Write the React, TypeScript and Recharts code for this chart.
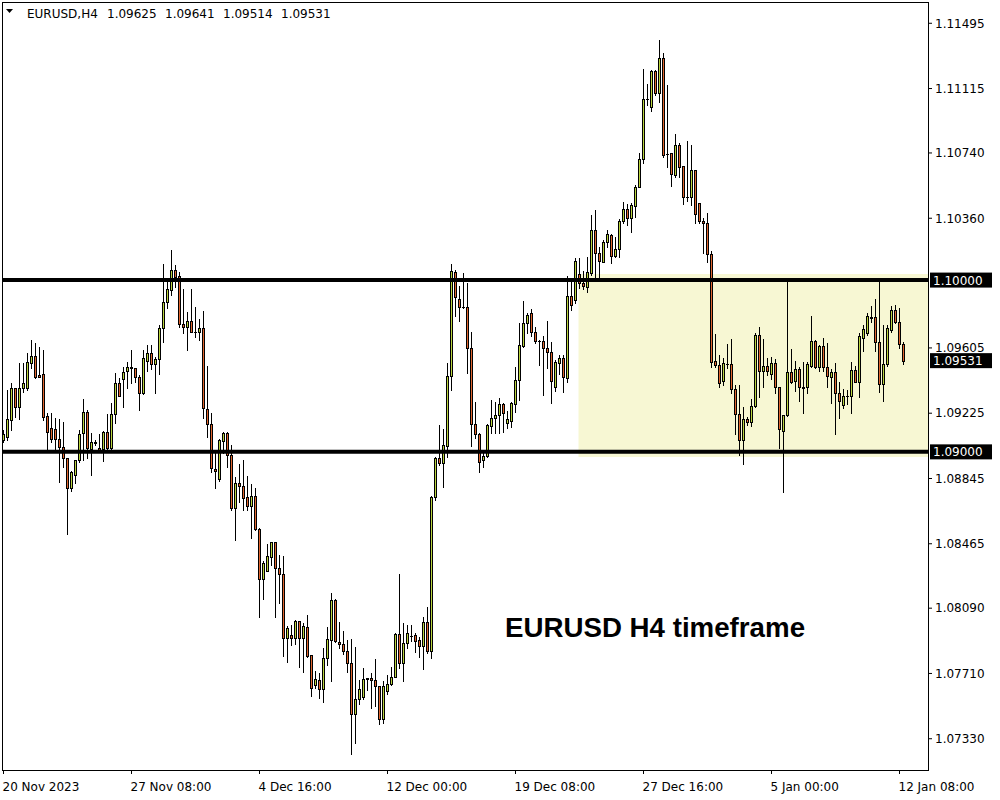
import React from "react";
import { ComposedChart, Bar, XAxis, YAxis, ReferenceLine, ReferenceArea } from "recharts";

const FONT = "'DejaVu Sans', Verdana, sans-serif";
const BULL = "#BAD43E";
const BEAR = "#E0652E";

// EURUSD H4 candles (index 0 = 20 Nov 2023 00:00)
const opens = [
  1.09069, 1.09084, 1.09185, 1.0937, 1.09262, 1.09373, 1.09373, 1.09519, 1.09558, 1.09447,
  1.09451, 1.09208, 1.09137, 1.09133, 1.09074, 1.09026, 1.08962, 1.08787, 1.08865, 1.08952,
  1.09108, 1.0923, 1.09015, 1.09055, 1.0902, 1.09015, 1.09113, 1.0902, 1.09218, 1.09402,
  1.09425, 1.0947, 1.09492, 1.09486, 1.09434, 1.0934, 1.0953, 1.09573, 1.09509, 1.0954,
  1.09719, 1.0987, 1.09942, 1.10058, 1.10023, 1.09742, 1.09725, 1.09761, 1.09696, 1.09696,
  1.09719, 1.09247, 1.0916, 1.08898, 1.0884, 1.09065, 1.09108, 1.08981, 1.08675, 1.08817,
  1.08804, 1.08735, 1.08686, 1.08744, 1.08551, 1.08258, 1.08308, 1.08389, 1.08473, 1.08322,
  1.08289, 1.07914, 1.07932, 1.07918, 1.08015, 1.07914, 1.07978, 1.07817, 1.07643, 1.07672,
  1.07617, 1.07798, 1.07904, 1.08137, 1.07894, 1.07879, 1.0784, 1.07769, 1.07472, 1.07559,
  1.07574, 1.07681, 1.07683, 1.07672, 1.07638, 1.07443, 1.07608, 1.07647, 1.07687, 1.07938,
  1.07769, 1.07885, 1.0793, 1.07934, 1.07904, 1.07871, 1.08007, 1.07842, 1.08739, 1.08962,
  1.08936, 1.09036, 1.09441, 1.10047, 1.09889, 1.09845, 1.09841, 1.09602, 1.09162, 1.09104,
  1.0895, 1.08976, 1.09152, 1.09195, 1.09214, 1.09278, 1.09169, 1.09181, 1.09276, 1.09418,
  1.09618, 1.09748, 1.09806, 1.09696, 1.09645, 1.09645, 1.09602, 1.09579, 1.09375, 1.09519,
  1.09544, 1.0943, 1.09907, 1.09884, 1.10033, 1.09981, 1.09961, 1.10039, 1.10291, 1.10155,
  1.10107, 1.10219, 1.10262, 1.10141, 1.10179, 1.10345, 1.10412, 1.10359, 1.10432, 1.10543,
  1.10703, 1.11054, 1.11009, 1.11217, 1.1109, 1.11291, 1.10733, 1.10738, 1.10611, 1.10786,
  1.10664, 1.10485, 1.10485, 1.1064, 1.10446, 1.10345, 1.1033, 1.1015, 1.09528, 1.09505,
  1.09415, 1.09511, 1.09509, 1.09364, 1.09218, 1.09069, 1.09189, 1.09175, 1.09267, 1.0968,
  1.0947, 1.09501, 1.09451, 1.09515, 1.09375, 1.09123, 1.09214, 1.09463, 1.09414, 1.09482,
  1.09375, 1.09375, 1.09499, 1.09645, 1.09495, 1.09616, 1.09495, 1.09437, 1.09463, 1.0934,
  1.09272, 1.09325, 1.09325, 1.09476, 1.09405, 1.09664, 1.0969, 1.09783, 1.09783, 1.09637,
  1.09393, 1.09509, 1.09709, 1.09825, 1.09754, 1.09625,
];
const highs = [
  1.09127, 1.0936, 1.09399, 1.09371, 1.09515, 1.09519, 1.09573, 1.09651, 1.09632, 1.09612,
  1.09593, 1.09224, 1.09228, 1.09195, 1.09189, 1.09175, 1.08962, 1.08888, 1.08952, 1.09127,
  1.09306, 1.09243, 1.09108, 1.09069, 1.09102, 1.09121, 1.09218, 1.09282, 1.09457, 1.09431,
  1.09495, 1.09524, 1.09593, 1.09486, 1.09447, 1.09593, 1.09622, 1.09622, 1.09554, 1.09738,
  1.10091, 1.0999, 1.10175, 1.10087, 1.10045, 1.09946, 1.09815, 1.09946, 1.09841, 1.09773,
  1.0982, 1.09499, 1.09224, 1.08991, 1.09073, 1.09117, 1.09117, 1.0904, 1.08855, 1.08929,
  1.08952, 1.08859, 1.08811, 1.08787, 1.08558, 1.08364, 1.08463, 1.08473, 1.08473, 1.08399,
  1.08395, 1.07986, 1.07992, 1.08021, 1.08015, 1.08005, 1.0805, 1.07817, 1.07726, 1.07711,
  1.07856, 1.07982, 1.0818, 1.08141, 1.08011, 1.07959, 1.07904, 1.07908, 1.07862, 1.07672,
  1.0774, 1.07683, 1.07711, 1.07794, 1.07638, 1.07666, 1.07701, 1.07749, 1.07943, 1.08289,
  1.08002, 1.07992, 1.07992, 1.07947, 1.07924, 1.0804, 1.08095, 1.08743, 1.08971, 1.09156,
  1.09131, 1.09515, 1.10093, 1.10058, 1.09965, 1.10042, 1.09984, 1.09699, 1.09288, 1.09108,
  1.0901, 1.09162, 1.09301, 1.09288, 1.09315, 1.09286, 1.09237, 1.09288, 1.09492, 1.09748,
  1.09878, 1.09806, 1.09831, 1.09725, 1.09651, 1.09674, 1.09761, 1.09641, 1.09534, 1.09563,
  1.09563, 1.10023, 1.10012, 1.10126, 1.10126, 1.10054, 1.10132, 1.10378, 1.10407, 1.10194,
  1.10233, 1.10291, 1.10266, 1.10252, 1.10355, 1.10452, 1.10441, 1.10446, 1.10553, 1.10738,
  1.11226, 1.11141, 1.11222, 1.11222, 1.11397, 1.1132, 1.11135, 1.10738, 1.1085, 1.10796,
  1.10664, 1.10809, 1.10786, 1.1064, 1.10446, 1.10359, 1.10392, 1.10171, 1.09686, 1.09563,
  1.09544, 1.09627, 1.09655, 1.09389, 1.09389, 1.09262, 1.09204, 1.09306, 1.09693, 1.09725,
  1.09655, 1.09544, 1.09554, 1.09538, 1.09379, 1.09214, 1.09996, 1.09597, 1.09528, 1.09495,
  1.09521, 1.09524, 1.0979, 1.09651, 1.09622, 1.09661, 1.09632, 1.09482, 1.09515, 1.09405,
  1.09366, 1.0936, 1.09524, 1.09501, 1.0969, 1.09738, 1.09806, 1.09849, 1.09889, 1.09996,
  1.09738, 1.09738, 1.09849, 1.09854, 1.09835, 1.09641,
];
const lows = [
  1.09057, 1.09069, 1.09127, 1.09204, 1.09189, 1.0935, 1.0936, 1.09486, 1.09428, 1.09435,
  1.09185, 1.0901, 1.09059, 1.0901, 1.08826, 1.08913, 1.08521, 1.08774, 1.08817, 1.08942,
  1.08952, 1.08962, 1.08865, 1.0904, 1.09006, 1.08948, 1.09015, 1.09015, 1.09169, 1.09327,
  1.09262, 1.09373, 1.09399, 1.09408, 1.09243, 1.09336, 1.09472, 1.0948, 1.09344, 1.09451,
  1.09641, 1.09835, 1.09913, 1.09961, 1.09725, 1.0969, 1.09593, 1.09696, 1.0967, 1.09651,
  1.09198, 1.09088, 1.08881, 1.08787, 1.08832, 1.08991, 1.0891, 1.08661, 1.08487, 1.08709,
  1.08661, 1.08661, 1.08496, 1.08545, 1.0804, 1.08143, 1.08308, 1.08341, 1.0804, 1.08122,
  1.07811, 1.07778, 1.07875, 1.07879, 1.07749, 1.0772, 1.07807, 1.07578, 1.07623, 1.07569,
  1.07545, 1.07759, 1.07668, 1.07894, 1.07856, 1.07821, 1.0772, 1.07239, 1.07303, 1.0753,
  1.07559, 1.07613, 1.0751, 1.0752, 1.07414, 1.0742, 1.07588, 1.07643, 1.07687, 1.0774,
  1.07669, 1.07856, 1.079, 1.07836, 1.07804, 1.07734, 1.07827, 1.07798, 1.08719, 1.08923,
  1.08797, 1.08971, 1.0936, 1.09792, 1.09761, 1.09835, 1.09457, 1.09035, 1.09079, 1.08884,
  1.08913, 1.08968, 1.09111, 1.09108, 1.09108, 1.09117, 1.0914, 1.09146, 1.0923, 1.09301,
  1.09612, 1.0969, 1.09674, 1.09632, 1.09505, 1.09331, 1.09489, 1.09286, 1.09356, 1.09451,
  1.0935, 1.09406, 1.09825, 1.09866, 1.09952, 1.09948, 1.09932, 1.10029, 1.1001, 1.1001,
  1.10103, 1.10194, 1.10097, 1.10132, 1.10132, 1.10334, 1.1032, 1.10281, 1.10365, 1.1054,
  1.10683, 1.11019, 1.10986, 1.11077, 1.11038, 1.10718, 1.10656, 1.10549, 1.10601, 1.10601,
  1.10441, 1.10462, 1.10437, 1.1033, 1.10334, 1.10159, 1.10103, 1.09492, 1.09492, 1.09375,
  1.09389, 1.09486, 1.09344, 1.09102, 1.08981, 1.08929, 1.09156, 1.09152, 1.09262, 1.09321,
  1.09379, 1.09447, 1.09422, 1.0934, 1.09024, 1.08768, 1.0921, 1.09402, 1.09354, 1.09297,
  1.09224, 1.0934, 1.09495, 1.09486, 1.09472, 1.09472, 1.09379, 1.09286, 1.09102, 1.09195,
  1.09253, 1.09278, 1.09228, 1.09405, 1.09317, 1.09587, 1.0968, 1.09757, 1.09588, 1.0935,
  1.09299, 1.09501, 1.09699, 1.09748, 1.09606, 1.09514,
];
const closes = [
  1.09104, 1.09189, 1.0937, 1.09262, 1.09373, 1.09399, 1.09521, 1.09558, 1.09437, 1.09437,
  1.09204, 1.09113, 1.09073, 1.09073, 1.09026, 1.08962, 1.08787, 1.08881, 1.08952, 1.09102,
  1.0923, 1.0902, 1.09055, 1.09053, 1.0901, 1.09113, 1.0902, 1.09218, 1.09402, 1.09327,
  1.09466, 1.09492, 1.0949, 1.09434, 1.09344, 1.09544, 1.09577, 1.09509, 1.0954, 1.09719,
  1.0987, 1.09946, 1.10058, 1.10016, 1.09742, 1.09725, 1.09761, 1.09696, 1.09695, 1.09719,
  1.09253, 1.0916, 1.08904, 1.08888, 1.09069, 1.09108, 1.08981, 1.08675, 1.08817, 1.08803,
  1.08729, 1.08686, 1.08744, 1.08549, 1.08258, 1.08351, 1.08393, 1.08473, 1.08322, 1.08287,
  1.07918, 1.07973, 1.07918, 1.08017, 1.07914, 1.07986, 1.07811, 1.07623, 1.07676, 1.07617,
  1.07798, 1.07908, 1.08137, 1.079, 1.07879, 1.0784, 1.07769, 1.07472, 1.07559, 1.07617,
  1.07677, 1.0768, 1.07672, 1.07637, 1.07443, 1.07637, 1.07647, 1.07691, 1.07938, 1.07769,
  1.07885, 1.07943, 1.07929, 1.079, 1.07871, 1.08007, 1.07842, 1.08739, 1.08962, 1.08936,
  1.0904, 1.09441, 1.10052, 1.09903, 1.09845, 1.09843, 1.09602, 1.0916, 1.09102, 1.08942,
  1.08976, 1.09156, 1.09198, 1.09214, 1.09278, 1.09224, 1.09191, 1.09282, 1.09418, 1.09622,
  1.09748, 1.09796, 1.09699, 1.09645, 1.09644, 1.09602, 1.09579, 1.09414, 1.09521, 1.09544,
  1.09437, 1.09907, 1.09854, 1.10111, 1.09984, 1.09967, 1.10045, 1.10291, 1.10155, 1.10112,
  1.10219, 1.10266, 1.10141, 1.1018, 1.10345, 1.10412, 1.10359, 1.10437, 1.10543, 1.10703,
  1.11052, 1.11053, 1.11217, 1.1109, 1.11291, 1.10728, 1.10732, 1.10615, 1.10786, 1.10656,
  1.10485, 1.10484, 1.1064, 1.10382, 1.10345, 1.1033, 1.1015, 1.09524, 1.09505, 1.09402,
  1.09515, 1.0951, 1.09364, 1.09218, 1.09069, 1.09189, 1.09175, 1.09267, 1.0968, 1.0947,
  1.09501, 1.0947, 1.09515, 1.09375, 1.09131, 1.09214, 1.09463, 1.09405, 1.09482, 1.09375,
  1.09374, 1.09509, 1.09645, 1.09495, 1.09616, 1.09495, 1.09441, 1.09463, 1.0934, 1.09297,
  1.09325, 1.09324, 1.09476, 1.09405, 1.09674, 1.09715, 1.0979, 1.09782, 1.09637, 1.09393,
  1.09511, 1.09719, 1.09825, 1.09754, 1.09626, 1.09531,
];

const timeTicks = [0, 32, 64, 96, 128, 160, 192, 224];
const timeLabels = ["20 Nov 2023", "27 Nov 08:00", "4 Dec 16:00", "12 Dec 00:00", "19 Dec 08:00", "27 Dec 16:00", "5 Jan 00:00", "12 Jan 08:00"];
const priceTicks = [1.0733, 1.0771, 1.0809, 1.08465, 1.08845, 1.09225, 1.09605, 1.1036, 1.1074, 1.11115, 1.11495];
const levels = [1.1, 1.09];
const lastPrice = 1.09531;
const zoneTop = 1.10035;
const zoneBottom = 1.0897;
const zoneStart = 143.75;
const headerValues = ["1.09625", "1.09641", "1.09514", "1.09531"];

const data = opens.map((o, i) => ({
  idx: i, o, h: highs[i], l: lows[i], c: closes[i], range: [lows[i], highs[i]],
}));

const Candle = (props: any) => {
  const { x, y, width, height, payload } = props;
  if (x == null || !payload) return null;
  const { o, h, l, c } = payload;
  const top = Math.min(y, y + height);
  const hgt = Math.abs(height);
  const k = h > l ? hgt / (h - l) : 0;
  const py = (v: number) => top + (h - v) * k;
  const cx = Math.round(x + width / 2 - 0.5) + 0.5;
  const bTop = Math.round(py(Math.max(o, c)));
  const bBot = Math.round(py(Math.min(o, c)));
  return (
    <g shapeRendering="crispEdges">
      <line x1={cx} x2={cx} y1={Math.round(top)} y2={Math.round(top + hgt) + 1} stroke="#000" />
      {bBot > bTop ? (
        <rect x={cx - 1} y={bTop + 0.5} width={2} height={bBot - bTop} fill={c >= o ? BULL : BEAR} stroke="#000" />
      ) : (
        <line x1={cx - 1.5} x2={cx + 1.5} y1={bTop + 0.5} y2={bTop + 0.5} stroke="#000" />
      )}
    </g>
  );
};

const TimeTick = ({ x, y, payload }: any) => {
  const k = timeTicks.indexOf(payload.value);
  return (
    <text x={x - 1} y={y + 15} fill="#000" fontSize={12} fontFamily={FONT} textAnchor="start">
      {timeLabels[k]}
    </text>
  );
};

const PriceTag = ({ viewBox, text }: any) => {
  if (!viewBox) return null;
  const x = viewBox.x + viewBox.width + 2;
  return (
    <g>
      <rect x={x} y={viewBox.y - 7.5} width={62} height={15} fill="#000" />
      <text x={x + 3} y={viewBox.y + 4.5} fill="#fff" fontSize={12} fontFamily={FONT}>{text}</text>
    </g>
  );
};

export default function App() {
  return (
    <div style={{ position: "relative", width: 1000, height: 800, background: "#fff" }}>
      <style>{"body{margin:0}"}</style>
      <ComposedChart width={1000} height={800} data={data} margin={{ top: 3, right: 0, left: 3, bottom: 0 }}>
        <XAxis
          dataKey="idx" type="number" domain={[-0.125, 231.125]} allowDataOverflow
          ticks={timeTicks} interval={0} tick={<TimeTick />} tickLine={{ stroke: "#000" }}
          tickSize={4} axisLine={false} height={30}
        />
        <YAxis
          orientation="right" type="number" domain={[1.07148, 1.11613]} allowDataOverflow
          ticks={priceTicks} interval={0} tickFormatter={(v: number) => v.toFixed(5)}
          tick={{ fill: "#000", fontSize: 12, fontFamily: FONT }} tickLine={{ stroke: "#000" }}
          tickSize={4} tickMargin={3} axisLine={false} width={72}
        />
        <ReferenceArea x1={zoneStart} x2={231.125} y1={zoneBottom} y2={zoneTop} fill="#F7F7D3" fillOpacity={1} stroke="none" />
        <Bar dataKey="range" barSize={3} shape={Candle} isAnimationActive={false} />
        {levels.map((v) => (
          <ReferenceLine key={v} y={v} stroke="#000" strokeWidth={4} label={<PriceTag text={v.toFixed(5)} />} />
        ))}
        <ReferenceLine y={lastPrice} stroke="#000" strokeOpacity={0} label={<PriceTag text={lastPrice.toFixed(5)} />} />
      </ComposedChart>
      <svg width={1000} height={800} style={{ position: "absolute", left: 0, top: 0, pointerEvents: "none" }}>
        <rect x={2.5} y={2.5} width={926} height={768} fill="none" stroke="#000" shapeRendering="crispEdges" />
        <polygon points="6,9 13,9 9.5,13" fill="#000" />
        <text x={27} y={18} fontSize={12} fontFamily={FONT} fill="#000">EURUSD,H4</text>
        {headerValues.map((v, i) => (
          <text key={v} x={107 + i * 58} y={18} fontSize={12} fontFamily={FONT} fill="#000">{v}</text>
        ))}
        <text x={505} y={637} fontSize={27.7} fontWeight="bold" fontFamily="'Liberation Sans', Arial, sans-serif" fill="#000">
          EURUSD H4 timeframe
        </text>
      </svg>
    </div>
  );
}
